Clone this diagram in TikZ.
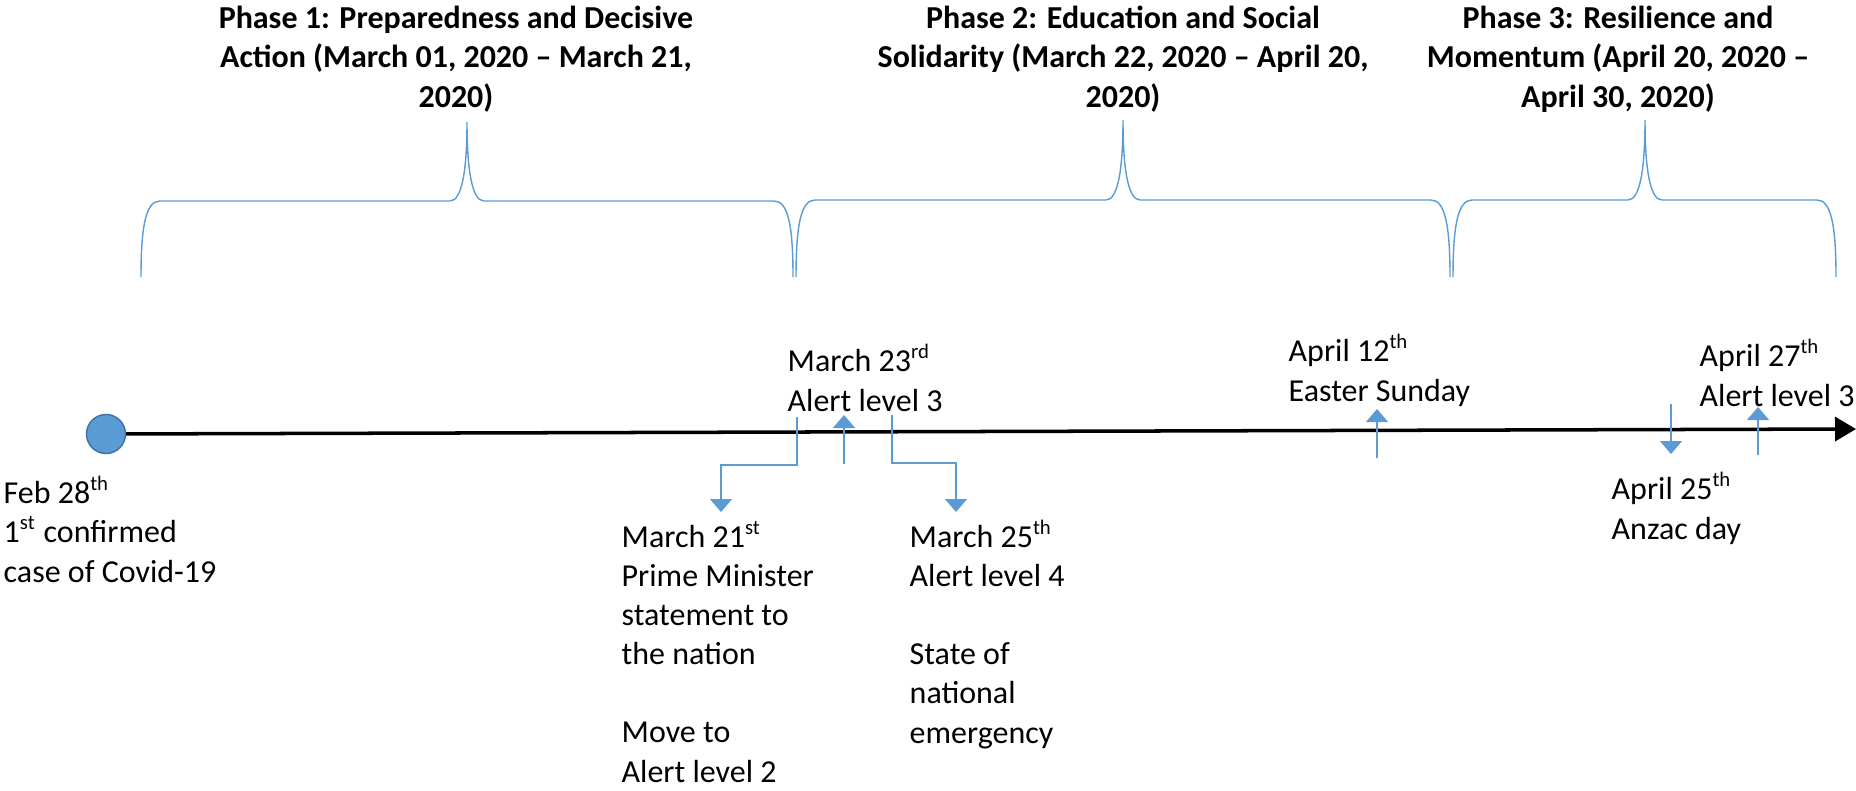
\documentclass[tikz,border=0pt]{standalone}
\usepackage{fontspec}
\setmainfont{Carlito}
\usetikzlibrary{arrows.meta}

\definecolor{eventblue}{HTML}{5B9BD5}
\definecolor{eventedge}{HTML}{41719C}

\newcommand{\ordsup}[1]{\textsuperscript{\fontsize{5.9}{6}\selectfont #1}}

% base anchor sits on the last line of the text
\tikzset{
  evtext/.style={anchor=base west, align=left, inner sep=0pt, font=\fontsize{9.1}{11.1}\selectfont},
  phasetext/.style={anchor=base, align=center, inner sep=0pt, font=\fontsize{9.1}{11.1}\selectfont\bfseries},
  brace/.style={draw=eventblue, line width=0.4pt},
  evarrow/.style={draw=eventblue, line width=0.4pt, -{Triangle[width=2.2mm,length=1.3mm]}},
  timeline/.style={line width=1pt, -{Triangle[width=2.4mm,length=2.1mm]}},
  startdot/.style={circle, minimum size=3.9mm, inner sep=0pt, fill=eventblue, draw=eventedge, line width=0.4pt}
}

\begin{document}
\begin{tikzpicture}[x=1cm,y=-1cm]
\useasboundingbox (0,0) rectangle (18.56,7.91);

% phases
\draw(4.56,1.07) node[phasetext] (P1) {Phase 1: Preparedness and Decisive\\Action (March 01, 2020 – March 21,\\2020)};
\draw(11.23,1.07) node[phasetext] (P2) {Phase 2: Education and Social\\Solidarity (March 22, 2020 – April 20,\\2020)};
\draw(16.18,1.07) node[phasetext] (P3) {Phase 3: Resilience and\\Momentum (April 20, 2020 –\\April 30, 2020)};

\draw[brace] (1.41,2.77) .. controls (1.41,2.25) and (1.46,2.01) .. (1.60,2.01) -- (4.50,2.01)
  .. controls (4.62,2.01) and (4.67,1.70) .. (4.67,1.22) .. controls (4.67,1.70) and (4.72,2.01) .. (4.84,2.01)
  -- (7.74,2.01) .. controls (7.88,2.01) and (7.93,2.25) .. (7.93,2.77);
\draw[brace] (7.96,2.77) .. controls (7.96,2.25) and (8.01,2.00) .. (8.15,2.00) -- (11.06,2.00)
  .. controls (11.18,2.00) and (11.23,1.69) .. (11.23,1.20) .. controls (11.23,1.69) and (11.28,2.00) .. (11.40,2.00)
  -- (14.31,2.00) .. controls (14.45,2.00) and (14.50,2.25) .. (14.50,2.77);
\draw[brace] (14.53,2.77) .. controls (14.53,2.25) and (14.58,2.00) .. (14.72,2.00) -- (16.28,2.00)
  .. controls (16.40,2.00) and (16.45,1.69) .. (16.45,1.20) .. controls (16.45,1.69) and (16.50,2.00) .. (16.62,2.00)
  -- (18.17,2.00) .. controls (18.31,2.00) and (18.36,2.25) .. (18.36,2.77);

% timeline
\draw(1.06,4.34) node[startdot] (S) {};
\coordinate (E) at (18.56,4.29);
\draw[timeline] (S) -- (E);

% events
\draw(0.03,5.82) node[evtext] (feb28) {Feb 28\ordsup{th}\\1\ordsup{st} confirmed\\case of Covid-19};
\draw(6.21,7.82) node[evtext] (mar21) {March 21\ordsup{st}\\Prime Minister\\statement to\\the nation\\[11.1pt]Move to\\Alert level 2};
\draw(7.87,4.11) node[evtext] (mar23) {March 23\ordsup{rd}\\Alert level 3};
\draw(9.09,7.43) node[evtext] (mar25) {March 25\ordsup{th}\\Alert level 4\\[11.1pt]State of\\national\\emergency};
\draw(12.88,4.01) node[evtext] (apr12) {April 12\ordsup{th}\\Easter Sunday};
\draw(16.11,5.39) node[evtext] (apr25) {April 25\ordsup{th}\\Anzac day};
\draw(16.99,4.06) node[evtext] (apr27) {April 27\ordsup{th}\\Alert level 3};

% markers
\coordinate (m21a) at (7.97,4.17);
\coordinate (m21b) at (7.21,5.12);
\coordinate (m23a) at (8.44,4.64);
\coordinate (m23b) at (8.44,4.15);
\coordinate (m25a) at (8.92,4.15);
\coordinate (m25b) at (9.56,5.12);
\coordinate (a12a) at (13.77,4.58);
\coordinate (a12b) at (13.77,4.09);
\coordinate (a25a) at (16.71,4.04);
\coordinate (a25b) at (16.71,4.54);
\coordinate (a27a) at (17.58,4.55);
\coordinate (a27b) at (17.58,4.07);
\draw[evarrow] (m21a) -- ++(0,0.48) -| (m21b);
\draw[evarrow] (m23a) -- (m23b);
\draw[evarrow] (m25a) -- ++(0,0.48) -| (m25b);
\draw[evarrow] (a12a) -- (a12b);
\draw[evarrow] (a25a) -- (a25b);
\draw[evarrow] (a27a) -- (a27b);

\end{tikzpicture}
\end{document}
